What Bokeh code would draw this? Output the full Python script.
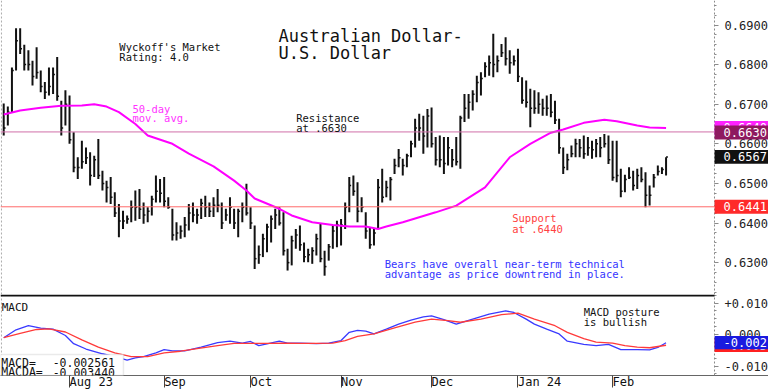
import math
import pandas as pd
from bokeh.plotting import figure
from bokeh.models import Range1d, FixedTicker, Span, Label, BoxAnnotation, LinearAxis
from bokeh.layouts import column
from bokeh.embed import file_html
from bokeh.resources import INLINE

# ---------------- data ----------------
dates = pd.bdate_range("2023-07-10", "2024-02-20")

highs = [0.6702, 0.6694, 0.6793, 0.6892, 0.6892, 0.6850, 0.6836, 0.6810, 0.6844, 0.6785,
         0.6756, 0.6793, 0.6793, 0.6819, 0.6709, 0.6735, 0.6722, 0.6629, 0.6566, 0.6608,
         0.6591, 0.6579, 0.6570, 0.6612, 0.6532, 0.6507, 0.6516, 0.6478, 0.6448, 0.6431,
         0.6419, 0.6457, 0.6482, 0.6486, 0.6452, 0.6440, 0.6469, 0.6520, 0.6511, 0.6516,
         0.6465, 0.6436, 0.6402, 0.6394, 0.6415, 0.6448, 0.6452, 0.6436, 0.6461, 0.6469,
         0.6452, 0.6465, 0.6486, 0.6452, 0.6436, 0.6465, 0.6436, 0.6436, 0.6452, 0.6499,
         0.6440, 0.6394, 0.6343, 0.6373, 0.6398, 0.6419, 0.6436, 0.6440, 0.6427, 0.6335,
         0.6368, 0.6385, 0.6394, 0.6351, 0.6335, 0.6339, 0.6373, 0.6398, 0.6330, 0.6347,
         0.6394, 0.6406, 0.6410, 0.6452, 0.6516, 0.6520, 0.6503, 0.6465, 0.6427, 0.6389,
         0.6385, 0.6511, 0.6537, 0.6507, 0.6516, 0.6562, 0.6587, 0.6562, 0.6575, 0.6608,
         0.6663, 0.6676, 0.6671, 0.6688, 0.6692, 0.6617, 0.6621, 0.6617, 0.6617, 0.6587,
         0.6617, 0.6671, 0.6726, 0.6726, 0.6735, 0.6772, 0.6781, 0.6806, 0.6823, 0.6878,
         0.6823, 0.6852, 0.6869, 0.6836, 0.6823, 0.6840, 0.6768, 0.6760, 0.6739, 0.6735,
         0.6730, 0.6714, 0.6722, 0.6726, 0.6709, 0.6663, 0.6591, 0.6575, 0.6596, 0.6613,
         0.6612, 0.6621, 0.6617, 0.6608, 0.6612, 0.6617, 0.6625, 0.6621, 0.6608, 0.6608,
         0.6537, 0.6522, 0.6541, 0.6532, 0.6537, 0.6541, 0.6528, 0.6495, 0.6524, 0.6545,
         0.6541, 0.6566]

lows = [0.6621, 0.6646, 0.6680, 0.6785, 0.6827, 0.6785, 0.6785, 0.6747, 0.6764, 0.6730,
        0.6713, 0.6722, 0.6726, 0.6709, 0.6621, 0.6646, 0.6600, 0.6528, 0.6511, 0.6537,
        0.6549, 0.6495, 0.6516, 0.6511, 0.6482, 0.6452, 0.6448, 0.6415, 0.6364, 0.6385,
        0.6398, 0.6402, 0.6406, 0.6410, 0.6398, 0.6402, 0.6419, 0.6452, 0.6452, 0.6440,
        0.6436, 0.6356, 0.6356, 0.6360, 0.6364, 0.6381, 0.6402, 0.6398, 0.6410, 0.6415,
        0.6415, 0.6415, 0.6427, 0.6385, 0.6406, 0.6398, 0.6385, 0.6364, 0.6402, 0.6419,
        0.6385, 0.6284, 0.6297, 0.6314, 0.6326, 0.6351, 0.6385, 0.6394, 0.6318, 0.6280,
        0.6293, 0.6335, 0.6330, 0.6301, 0.6301, 0.6297, 0.6318, 0.6301, 0.6267, 0.6305,
        0.6335, 0.6339, 0.6343, 0.6385, 0.6427, 0.6469, 0.6402, 0.6427, 0.6360, 0.6335,
        0.6343, 0.6385, 0.6452, 0.6465, 0.6457, 0.6524, 0.6541, 0.6520, 0.6541, 0.6566,
        0.6591, 0.6608, 0.6575, 0.6591, 0.6591, 0.6545, 0.6541, 0.6524, 0.6545, 0.6541,
        0.6545, 0.6537, 0.6655, 0.6663, 0.6684, 0.6705, 0.6722, 0.6768, 0.6772, 0.6768,
        0.6781, 0.6819, 0.6798, 0.6777, 0.6798, 0.6756, 0.6701, 0.6692, 0.6642, 0.6676,
        0.6676, 0.6671, 0.6671, 0.6667, 0.6650, 0.6575, 0.6524, 0.6533, 0.6566, 0.6566,
        0.6566, 0.6562, 0.6570, 0.6562, 0.6566, 0.6566, 0.6591, 0.6549, 0.6507, 0.6503,
        0.6465, 0.6478, 0.6511, 0.6482, 0.6486, 0.6503, 0.6440, 0.6444, 0.6490, 0.6520,
        0.6524, 0.6520]

closes = [0.6640, 0.6680, 0.6785, 0.6860, 0.6840, 0.6800, 0.6800, 0.6770, 0.6780, 0.6745,
          0.6730, 0.6745, 0.6775, 0.6720, 0.6640, 0.6700, 0.6610, 0.6540, 0.6540, 0.6555,
          0.6565, 0.6520, 0.6560, 0.6520, 0.6500, 0.6490, 0.6465, 0.6425, 0.6405, 0.6405,
          0.6410, 0.6440, 0.6440, 0.6435, 0.6420, 0.6430, 0.6460, 0.6480, 0.6475, 0.6455,
          0.6440, 0.6370, 0.6375, 0.6380, 0.6395, 0.6425, 0.6420, 0.6420, 0.6450, 0.6440,
          0.6430, 0.6445, 0.6445, 0.6400, 0.6420, 0.6440, 0.6400, 0.6430, 0.6440, 0.6425,
          0.6400, 0.6310, 0.6320, 0.6360, 0.6390, 0.6410, 0.6420, 0.6400, 0.6330, 0.6300,
          0.6355, 0.6370, 0.6345, 0.6315, 0.6320, 0.6330, 0.6360, 0.6310, 0.6290, 0.6340,
          0.6380, 0.6395, 0.6395, 0.6440, 0.6495, 0.6480, 0.6430, 0.6440, 0.6380, 0.6345,
          0.6375, 0.6490, 0.6465, 0.6490, 0.6510, 0.6545, 0.6565, 0.6545, 0.6570, 0.6600,
          0.6640, 0.6640, 0.6620, 0.6670, 0.6600, 0.6560, 0.6560, 0.6550, 0.6590, 0.6560,
          0.6555, 0.6665, 0.6690, 0.6705, 0.6725, 0.6755, 0.6765, 0.6795, 0.6805, 0.6800,
          0.6810, 0.6830, 0.6815, 0.6805, 0.6810, 0.6770, 0.6710, 0.6705, 0.6690, 0.6690,
          0.6700, 0.6690, 0.6690, 0.6680, 0.6660, 0.6590, 0.6540, 0.6560, 0.6575, 0.6600,
          0.6590, 0.6575, 0.6590, 0.6585, 0.6600, 0.6590, 0.6600, 0.6560, 0.6515, 0.6520,
          0.6480, 0.6510, 0.6515, 0.6495, 0.6520, 0.6510, 0.6470, 0.6470, 0.6515, 0.6530,
          0.6535, 0.6567]

# 50-day moving average (bar index, value)
ma_idx = [0, 4, 9, 14, 19, 22, 25, 28, 32, 35, 41, 45, 51, 56, 59, 61, 67, 70, 75, 80,
          84, 88, 91, 93, 97, 105, 110, 117, 123, 128, 133, 136, 141, 146, 149, 154, 157, 161]
ma_val = [0.6674, 0.6684, 0.6691, 0.6696, 0.6697, 0.6700, 0.6694, 0.6680, 0.6650, 0.6621,
          0.6600, 0.6575, 0.6543, 0.6507, 0.6482, 0.6462, 0.6436, 0.6419, 0.6402, 0.6395,
          0.6391, 0.6391, 0.6385, 0.6391, 0.6402, 0.6427, 0.6444, 0.6490, 0.6566, 0.6600,
          0.6628, 0.6636, 0.6653, 0.6661, 0.6657, 0.6646, 0.6641, 0.6640]

# MACD (blue) and signal MACDA (red)
macd_idx = [0, 3, 6, 9, 12, 15, 17, 20, 24, 27, 30, 32, 34, 37, 39, 41, 44, 48, 52, 55,
            58, 60, 62, 64, 67, 69, 72, 76, 79, 82, 84, 86, 88, 90, 93, 96, 99, 102, 104, 107,
            110, 114, 118, 122, 124, 127, 129, 132, 135, 137, 141, 144, 147, 150, 154, 157, 159, 161]
macd_val = [-0.0010, 0.0015, 0.0028, 0.0020, 0.0017, -0.0003, -0.0029, -0.0046, -0.0061, -0.0070,
            -0.0081, -0.0074, -0.0070, -0.0058, -0.0048, -0.0052, -0.0052, -0.0040, -0.0026, -0.0021,
            -0.0027, -0.0022, -0.0035, -0.0030, -0.0021, -0.0027, -0.0027, -0.0029, -0.0027, -0.0019,
            0.0007, 0.0013, 0.0011, 0.0002, 0.0017, 0.0033, 0.0046, 0.0056, 0.0059, 0.0047,
            0.0033, 0.0049, 0.0065, 0.0075, 0.0070, 0.0049, 0.0033, 0.0017, 0.0002, -0.0021,
            -0.0031, -0.0035, -0.0031, -0.0048, -0.0048, -0.0049, -0.0041, -0.0026]
sig_idx = [0, 4, 8, 11, 15, 19, 23, 27, 31, 35, 39, 43, 47, 52, 56, 60, 64, 68, 72, 76,
           80, 83, 86, 90, 95, 100, 104, 108, 111, 116, 121, 125, 129, 134, 137, 141, 144, 148,
           151, 154, 157, 161]
sig_val = [-0.0010, 0.0004, 0.0016, 0.0018, 0.0008, -0.0017, -0.0040, -0.0058, -0.0070, -0.0070,
           -0.0058, -0.0053, -0.0045, -0.0035, -0.0028, -0.0028, -0.0028, -0.0027, -0.0028, -0.0028,
           -0.0027, -0.0019, -0.0006, 0.0002, 0.0021, 0.0039, 0.0049, 0.0044, 0.0039, 0.0049,
           0.0063, 0.0068, 0.0049, 0.0028, 0.0007, -0.0013, -0.0024, -0.0027, -0.0035, -0.0040,
           -0.0042, -0.0034]

month_labels = ["Aug 23", "Sep", "Oct", "Nov", "Dec", "Jan 24", "Feb"]
price_ticks = [0.63, 0.64, 0.65, 0.66, 0.67, 0.68, 0.69]
macd_ticks = [-0.01, 0.0, 0.01]
macd_tick_labels = ["-0.010", "0.000", "+0.010"]

resistance = 0.6630
support = 0.6441
last_close = 0.6567
last_ma = 0.6640
macd_last = -0.002561
macda_last = -0.003440

# ---------------- styling ----------------
FONT = "DejaVu Sans Mono"
AX = 172.8                     # bar-index position of the price axis
xs = list(range(len(dates)))
month_idx = [i for i in range(1, len(dates)) if dates[i].month != dates[i - 1].month]
xr = Range1d(-0.78, 185.9)
MACD_TOP, MACD_BOT = 0.0127, -0.0130


def add_label(fig, x, y, text, size, color, xu="data", yu="data", align="left",
              baseline="alphabetic", **kw):
    fig.add_layout(Label(x=x, y=y, x_units=xu, y_units=yu, text=text, text_font=FONT,
                         text_font_size=f"{size}px", text_color=color, text_align=align,
                         text_baseline=baseline, **kw))


def right_axis(fig, ticks, minor, labels):
    ax = LinearAxis(fixed_location=AX)
    ax.ticker = FixedTicker(ticks=ticks, minor_ticks=minor)
    ax.major_label_overrides = dict(zip(ticks, labels))
    ax.axis_line_color = "#8a8a8a"
    ax.axis_line_dash = "2 2"
    ax.major_tick_line_color = "#8a8a8a"
    ax.minor_tick_line_color = "#8a8a8a"
    ax.major_tick_out = 4
    ax.major_tick_in = 0
    ax.minor_tick_out = 2
    ax.minor_tick_in = 0
    ax.major_label_standoff = 6
    ax.major_label_text_font = FONT
    ax.major_label_text_font_size = "12px"
    ax.major_label_text_color = "#222222"
    fig.add_layout(ax, "right")
    return ax


def tag(fig, y, text, bg, half):
    # coloured value box on the price axis, with the value written in white
    fig.add_layout(BoxAnnotation(left=AX, right=xr.end, bottom=y - half, top=y + half,
                                 fill_color=bg, fill_alpha=1.0, line_color=None))
    add_label(fig, AX, y, text, 12, "white", baseline="middle", x_offset=9)


# ---------------- main price panel ----------------
p = figure(width=768, height=294, x_range=xr, y_range=Range1d(0.62195, 0.69619),
           y_axis_location=None, x_axis_location=None, toolbar_location=None,
           output_backend="svg", min_border_left=0, min_border_top=0, min_border_bottom=0,
           min_border_right=0)
p.grid.visible = False
p.outline_line_color = None

p.add_layout(Span(location=-0.55, dimension="height", line_color="#aaaaaa", line_dash="2 2"))
p.add_layout(Span(location=resistance, dimension="width", line_color="#d070a8", line_width=1))
p.add_layout(Span(location=support, dimension="width", line_color="#ff6a6a", line_width=1))

p.segment(xs, lows, xs, highs, line_color="#111111", line_width=2)
p.segment(xs, closes, [x + 0.45 for x in xs], closes, line_color="#111111", line_width=1.5)
p.line(ma_idx, ma_val, line_color="#ff00ff", line_width=2)

right_axis(p, price_ticks, [0.62 + k * 0.0025 for k in range(32)],
           [f"{t:.4f}" for t in price_ticks])

add_label(p, 66.8, 0.68735, "Australian Dollar-", 17, "#111111")
add_label(p, 66.8, 0.68298, "U.S. Dollar", 17, "#111111")
add_label(p, 28.1, 0.68449, "Wyckoff's Market", 10.5, "#111111")
add_label(p, 28.1, 0.68195, "Rating: 4.0", 10.5, "#111111")
add_label(p, 31.3, 0.66891, "50-day", 10.5, "#ff33ff")
add_label(p, 31.3, 0.66652, "mov. avg.", 10.5, "#ff33ff")
add_label(p, 71.1, 0.66664, "Resistance", 10.5, "#111111")
add_label(p, 71.1, 0.66412, "at .6630", 10.5, "#111111")
add_label(p, 123.6, 0.64121, "Support", 10.5, "#ff4040")
add_label(p, 123.6, 0.63861, "at .6440", 10.5, "#ff4040")
add_label(p, 92.6, 0.62960, "Bears have overall near-term technical", 10.5, "#3535ff")
add_label(p, 92.6, 0.62707, "advantage as price downtrend in place.", 10.5, "#3535ff")

PH = 0.00175   # half height of a price tag
tag(p, last_ma, f"{last_ma:.4f}", "#ff22ff", PH)
tag(p, resistance - 0.00015, f"{resistance:.4f}", "#8e1a60", PH)
tag(p, last_close, f"{last_close:.4f}", "#111111", PH)
tag(p, support, f"{support:.4f}", "#ff2a2a", PH)

# ---------------- MACD panel ----------------
m = figure(width=768, height=97, x_range=xr, y_range=Range1d(MACD_BOT, MACD_TOP),
           y_axis_location=None, toolbar_location=None, output_backend="svg",
           min_border_left=0, min_border_top=0, min_border_bottom=0, min_border_right=0)
m.grid.visible = False
m.outline_line_color = None

m.add_layout(Span(location=-0.55, dimension="height", line_color="#aaaaaa", line_dash="2 2"))
m.line(macd_idx, macd_val, line_color="#3a3aff", line_width=1.3)
m.line(sig_idx, sig_val, line_color="#ff3a3a", line_width=1.3)

m.add_layout(BoxAnnotation(left=-0.78, right=AX, top=MACD_TOP, bottom=MACD_TOP - 0.0006,
                           fill_color="#111111", fill_alpha=1.0, line_color=None))

right_axis(m, macd_ticks, [-0.0125 + k * 0.0025 for k in range(11)], macd_tick_labels)

xax = m.xaxis[0]
xax.ticker = FixedTicker(ticks=month_idx)
xax.major_label_overrides = {i: "\u00a0" * len(lab) + lab for i, lab in zip(month_idx, month_labels)}
xax.major_label_text_font = FONT
xax.major_label_text_font_size = "12px"
xax.major_label_text_color = "#111111"
xax.major_tick_out = 12
xax.major_tick_in = 0
xax.minor_tick_out = 0
xax.major_label_standoff = -13
xax.major_tick_line_color = "#444444"
xax.axis_line_color = "#666666"

add_label(m, -0.5, 0.00857, "MACD", 11, "#111111")
add_label(m, 141, 0.00708, "MACD posture", 10.5, "#111111")
add_label(m, 141, 0.00390, "is bullish", 10.5, "#111111")

m.add_layout(BoxAnnotation(left=-0.78, right=29.1, top=-0.00635, bottom=MACD_BOT,
                           fill_color="white", fill_alpha=1.0, line_color="#b8b8b8",
                           line_width=1.5))
add_label(m, -0.6, -0.0089, "MACD=", 11.5, "#111111")
add_label(m, 11.9, -0.0089, f"{macd_last:.6f}", 11.5, "#111111")
add_label(m, -0.6, -0.0120, "MACDA=", 11.5, "#111111")
add_label(m, 11.9, -0.0120, f"{macda_last:.6f}", 11.5, "#111111")

MH = 0.0021    # half height of a MACD tag
tag(m, macda_last, f"{math.trunc(macda_last * 1000) / 1000:.3f}", "#ff2020", MH)
tag(m, macd_last, f"{math.trunc(macd_last * 1000) / 1000:.3f}", "#1a1ae0", MH)

layout = column(p, m, spacing=0)
open("out.html", "w").write(file_html(layout, INLINE))
